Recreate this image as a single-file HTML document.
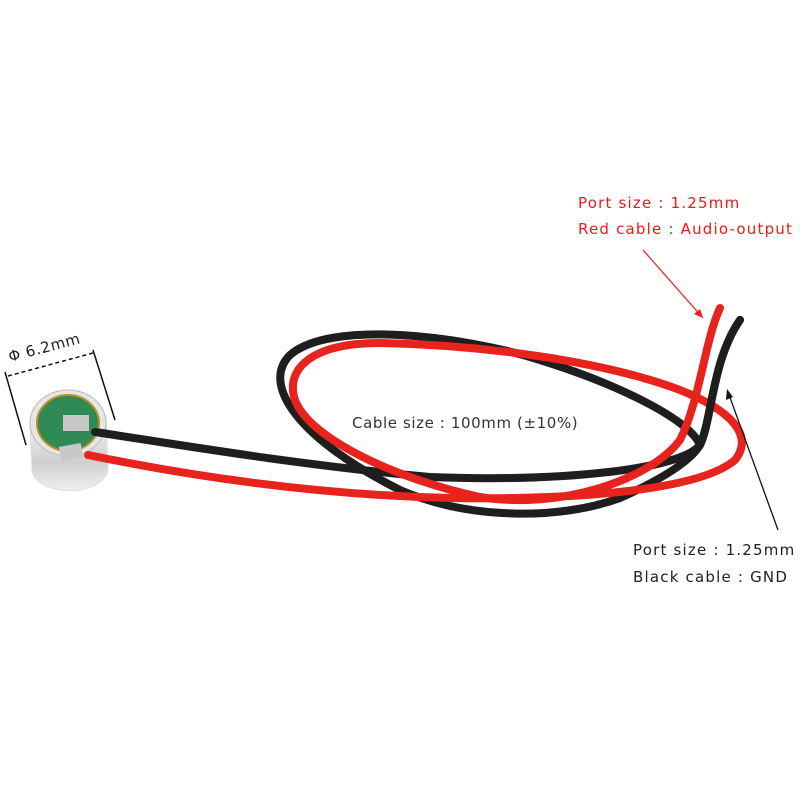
<!DOCTYPE html>
<html><head><meta charset="utf-8"><style>
html,body{margin:0;padding:0;background:#fff;}
svg{display:block}
text{font-family:"DejaVu Sans","Liberation Sans",sans-serif;font-size:15px;letter-spacing:0.6px}
.w{letter-spacing:1.2px}
</style></head><body>
<svg width="800" height="800" viewBox="0 0 800 800">
<defs>
<linearGradient id="sil" x1="0" y1="0" x2="0" y2="1">
<stop offset="0" stop-color="#f4f4f4"/><stop offset="0.6" stop-color="#cfcfcf"/><stop offset="1" stop-color="#f0f0f0"/>
</linearGradient>
</defs>
<path d="M30,425 L32,470 C34,495 100,500 108,470 L106,420 Z" fill="url(#sil)" stroke="#ddd"/>
<ellipse cx="68" cy="423" rx="38" ry="33" fill="#e6e6e6" stroke="#bbb"/>
<ellipse cx="68" cy="423" rx="31" ry="28" fill="#2f8a55" stroke="#b8902a" stroke-width="2"/>
<rect x="63" y="415" width="26" height="16" fill="#c8c8c8"/>
<rect x="60" y="445" width="22" height="14" fill="#c8c8c8" transform="rotate(-10 70 452)"/>
<!-- black cable -->
<path d="M700,445 C690,420 620,385 540,360 C460,335 330,320 290,355 C260,385 300,440 400,490 C470,520 560,520 620,498 C660,480 690,462 700,445" fill="none" stroke="#1e1e1e" stroke-width="8" stroke-linecap="round"/>
<path d="M95,432 C200,448 300,465 430,477 C560,482 680,470 700,445 C712,420 712,360 740,320" fill="none" stroke="#1e1e1e" stroke-width="8" stroke-linecap="round"/>
<!-- red cable -->
<path d="M88,455 C200,478 320,495 450,498 C580,500 700,490 735,460 C755,435 730,410 680,390 C600,360 480,345 380,343 C310,343 285,370 295,400 C310,440 400,480 480,497 C560,510 650,480 680,440 C700,400 705,340 720,308" fill="none" stroke="#e8231d" stroke-width="8" stroke-linecap="round"/>
<path d="M700,445 C712,420 712,360 740,320" fill="none" stroke="#1e1e1e" stroke-width="8" stroke-linecap="round"/>
<line x1="5" y1="372" x2="26" y2="445" stroke="#111" stroke-width="1.5"/>
<line x1="93" y1="350" x2="115" y2="420" stroke="#111" stroke-width="1.5"/>
<line x1="8" y1="376" x2="93" y2="353" stroke="#111" stroke-width="1.5" stroke-dasharray="4,3"/>
<text x="10" y="362" fill="#222" transform="rotate(-15 10 362)">Φ 6.2mm</text>
<text class="w" x="578" y="208" fill="#f01818">Port size : 1.25mm</text>
<text class="w" x="578" y="234" fill="#f01818">Red cable : Audio-output</text>
<line x1="643" y1="250" x2="703" y2="318" stroke="#f01818" stroke-width="1.2"/>
<path d="M703,318 L694,314 L700,309 Z" fill="#f01818"/>
<text x="352" y="428" fill="#333">Cable size : 100mm (±10%)</text>
<line x1="778" y1="530" x2="728" y2="392" stroke="#111" stroke-width="1.3"/>
<path d="M727,389 L726,400 L733,397 Z" fill="#111"/>
<text class="w" x="633" y="555" fill="#222">Port size : 1.25mm</text>
<text class="w" x="633" y="582" fill="#222">Black cable : GND</text>
</svg>
</body></html>
